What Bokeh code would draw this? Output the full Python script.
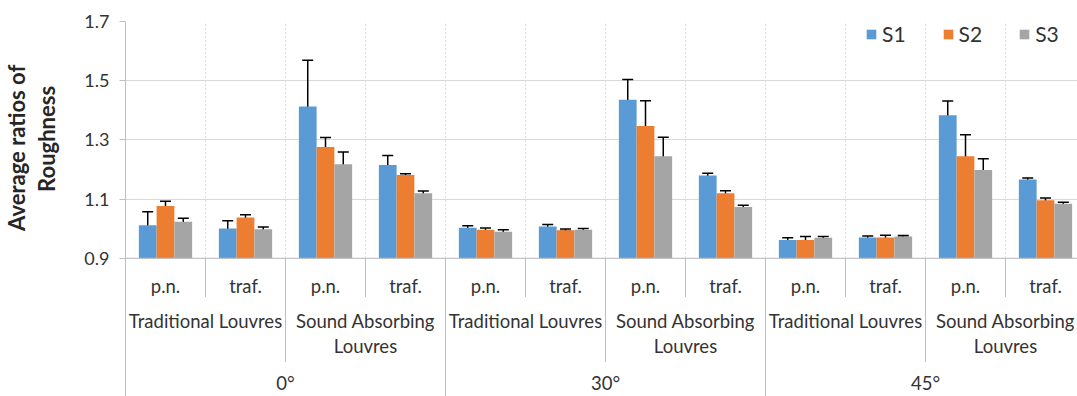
import numpy as np
from bokeh.plotting import figure
from bokeh.models import Range1d, FixedTicker, ColumnDataSource, Whisker, TeeHead, Title
from bokeh.core.properties import value
from bokeh.embed import file_html
from bokeh.resources import INLINE

# ---------------- data ----------------
angles = ["0°", "30°", "45°"]
louvres = ["Traditional Louvres", "Sound Absorbing\nLouvres"]
noises = ["p.n.", "traf."]
series = ["S1", "S2", "S3"]

s1 = [1.012, 1.001, 1.413, 1.215, 1.003, 1.007, 1.436, 1.180, 0.962, 0.970, 1.383, 1.166]
s1_err = [0.045, 0.026, 0.156, 0.032, 0.007, 0.007, 0.068, 0.007, 0.007, 0.005, 0.048, 0.005]
s2 = [1.077, 1.038, 1.276, 1.181, 0.996, 0.995, 1.347, 1.120, 0.962, 0.970, 1.245, 1.096]
s2_err = [0.016, 0.009, 0.032, 0.005, 0.006, 0.004, 0.085, 0.008, 0.012, 0.008, 0.072, 0.008]
s3 = [1.023, 0.998, 1.218, 1.120, 0.990, 0.996, 1.245, 1.073, 0.969, 0.974, 1.198, 1.084]
s3_err = [0.012, 0.008, 0.041, 0.007, 0.006, 0.005, 0.064, 0.006, 0.005, 0.003, 0.038, 0.005]
y_ticks = [0.9, 1.1, 1.3, 1.5, 1.7]
y_title_lines = ["Average ratios of", "Roughness"]

values = [s1, s2, s3]
errors = [s1_err, s2_err, s3_err]
colors = ["#5B9BD5", "#ED7D31", "#A5A5A5"]

FONT = "Lato"
TXT = "#333333"
AX = "#BFBFBF"
GRID = "#D9D9D9"
CAT_SIZE = "18.5px"

factors = [(a, l, n) for a in angles for l in louvres for n in noises]
n_f = len(factors)
centers = np.arange(n_f) + 0.5
base = y_ticks[0]
y_bottom = 0.433
H, TOP = 396, 21
px_per_unit = (H - TOP) / (y_ticks[-1] - y_bottom)

p = figure(width=1077, height=H, output_backend="svg", toolbar_location=None,
           x_range=Range1d(0, 11.9), y_range=Range1d(y_bottom, 1.7),
           x_axis_location=None, min_border_left=125, min_border_right=0,
           min_border_top=TOP, min_border_bottom=0)
p.outline_line_color = None
p.xgrid.visible = False
p.ygrid.ticker = FixedTicker(ticks=y_ticks)
p.ygrid.grid_line_color = GRID

yax = p.yaxis[0]
yax.ticker = FixedTicker(ticks=y_ticks)
yax.axis_line_color = AX
yax.major_tick_line_color = AX
yax.major_tick_out = 6
yax.major_tick_in = 0
yax.minor_tick_line_color = None
yax.major_label_text_font = FONT
yax.major_label_text_font_size = "18px"
yax.major_label_text_color = TXT
yax.major_label_standoff = 10

# spacer between tick labels and the y-axis title
p.add_layout(Title(text=" ", text_font_size="2px", standoff=15), "left")

# y-axis title: two left-side Titles, each centred on the value part of the axis
centre_px = TOP + (y_ticks[-1] - (y_ticks[0] + y_ticks[-1]) / 2) * px_per_unit
est_len = {"Average ratios of": 182, "Roughness": 104}
standoffs = {"Average ratios of": 0, "Roughness": 2}
for line in reversed(y_title_lines):
    off = H - centre_px - est_len[line] / 2
    p.add_layout(Title(text=line, align="left", vertical_align="top", offset=off,
                       text_font=FONT, text_font_size="22px", text_font_style="bold",
                       text_color="#262626", standoff=standoffs[line]), "left")

# vertical dotted grid lines between categories (inside plot)
bx = np.arange(1, n_f)
p.segment(x0=bx, y0=[base] * len(bx), x1=bx, y1=[y_ticks[-1]] * len(bx),
          line_color=GRID, line_dash="2 2", line_width=1)

# bars and error bars
width = 0.222
for j, (name, vals, errs, col) in enumerate(zip(series, values, errors, colors)):
    xs = centers + (j - 1) * width
    src = ColumnDataSource(dict(x=xs, top=vals,
                                upper=np.array(vals) + np.array(errs),
                                lower=np.array(vals) - np.array(errs)))
    p.vbar(x="x", top="top", bottom=base, width=width, source=src,
           fill_color=col, line_color=None, legend_label=name)
    w = Whisker(source=src, base="x", upper="upper", lower="lower",
                line_color="black", line_width=1.5,
                upper_head=TeeHead(size=11, line_width=1.5, line_color="black"),
                lower_head=TeeHead(size=11, line_width=1.5, line_color="black"))
    p.add_layout(w)

# category axis line at 0.9
p.segment(x0=[0], y0=[base], x1=[n_f], y1=[base], line_color=AX, line_width=1)

# separators below the axis (length depends on category level)
kk = np.arange(0, n_f + 1)
sep_y = []
for k in kk:
    if k % 4 == 0:
        sep_y.append(y_bottom)
    elif k % 2 == 0:
        sep_y.append(0.549)
    else:
        sep_y.append(0.769)
p.segment(x0=kk, y0=[base] * len(kk), x1=kk, y1=sep_y, line_color=AX, line_width=1)

# level 1 labels
p.text(x=centers, y=[0.808] * n_f, text=[f[2] for f in factors],
       text_font=value(FONT), text_font_size=CAT_SIZE, text_color=TXT,
       text_align="center", text_baseline="middle")
# level 2 labels
l2_x = [2 * i + 1 for i in range(len(angles) * len(louvres))]
l2_t = [l for a in angles for l in louvres]
p.text(x=l2_x, y=[0.724] * len(l2_x), text=l2_t,
       text_font=value(FONT), text_font_size=CAT_SIZE, text_color=TXT,
       text_align="center", text_baseline="top", text_line_height=1.1)
# level 3 labels
l3_x = [4 * i + 2 for i in range(len(angles))]
p.text(x=l3_x, y=[0.477] * len(l3_x), text=angles,
       text_font=value(FONT), text_font_size=CAT_SIZE, text_color=TXT,
       text_align="center", text_baseline="middle")

lg = p.legend[0]
lg.orientation = "horizontal"
lg.location = (740, 350)
lg.border_line_color = None
lg.background_fill_alpha = 0
lg.padding = 0
lg.margin = 0
lg.spacing = 36
lg.glyph_width = 12
lg.glyph_height = 12
lg.label_standoff = 5
lg.label_text_font = FONT
lg.label_text_font_size = "21px"
lg.label_text_color = TXT

open("out.html", "w").write(file_html(p, INLINE))
